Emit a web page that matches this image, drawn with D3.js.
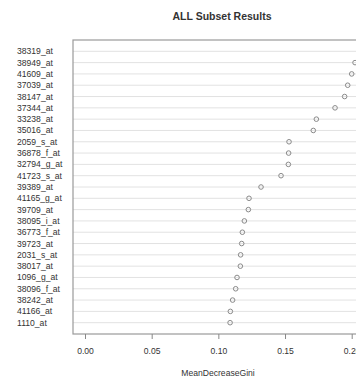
<!DOCTYPE html>
<html>
<head>
<meta charset="utf-8">
<script src="https://cdn.jsdelivr.net/npm/d3@7"></script>
<style>
  body { margin: 0; background: #fff; }
  text { font-family: Arial, "Liberation Sans", sans-serif; fill: #333; }
</style>
</head>
<body>
<div id="chart"></div>
<script>
var genes = ['38319_at', '38949_at', '41609_at', '37039_at', '38147_at', '37344_at', '33238_at', '35016_at',
    '2059_s_at', '36878_f_at', '32794_g_at', '41723_s_at', '39389_at', '41165_g_at', '39709_at', '38095_i_at',
    '36773_f_at', '39723_at', '2031_s_at', '38017_at', '1096_g_at', '38096_f_at', '38242_at', '41166_at', '1110_at'];
var gini = [0.215, 0.2025, 0.2, 0.197, 0.1947, 0.1875, 0.1735, 0.1712,
    0.153, 0.1527, 0.1525, 0.147, 0.132, 0.123, 0.1225, 0.1195,
    0.118, 0.1175, 0.1167, 0.1165, 0.114, 0.113, 0.1107, 0.109, 0.1088];
var xTicks = [0, 0.05, 0.1, 0.15, 0.2];

var width = 356, height = 379;
var box = { left: 73, top: 40, bottom: 334, right: 380 };

var svg = d3.select('#chart').append('svg')
    .attr('width', width)
    .attr('height', height);

// x: 0 sits at 85px, 0.05 per ~66.7px
var x = d3.scaleLinear().domain([0, 0.2]).range([85, 351.7]);
// y like R dotchart: positions 0..n+1, first label at the top
var y = d3.scaleLinear().domain([0, genes.length + 1]).range([box.bottom, box.top]);
function rowY(i) { return y(genes.length - i); }

svg.append('text')
    .attr('x', 222)
    .attr('y', 20)
    .attr('text-anchor', 'middle')
    .style('font-size', '10.5px')
    .style('font-weight', 'bold')
    .text('ALL Subset Results');

// dotted guide lines
svg.append('g').selectAll('line')
    .data(genes)
    .enter()
    .append('line')
    .attr('x1', box.left)
    .attr('x2', width)
    .attr('y1', function (d, i) { return rowY(i); })
    .attr('y2', function (d, i) { return rowY(i); })
    .attr('stroke', '#e2e2e2')
    .attr('stroke-width', 1);

// plot box
svg.append('rect')
    .attr('x', box.left)
    .attr('y', box.top)
    .attr('width', box.right - box.left)
    .attr('height', box.bottom - box.top)
    .attr('fill', 'none')
    .attr('stroke', '#9a9a9a')
    .attr('stroke-width', 1.2);

// labels, left aligned as in dotchart
svg.append('g').selectAll('text')
    .data(genes)
    .enter()
    .append('text')
    .attr('x', 17)
    .attr('y', function (d, i) { return rowY(i); })
    .attr('dy', '0.35em')
    .style('font-size', '8.6px')
    .text(function (d) { return d; });

// points
svg.append('g').selectAll('circle')
    .data(gini)
    .enter()
    .append('circle')
    .attr('cx', function (d) { return x(d); })
    .attr('cy', function (d, i) { return rowY(i); })
    .attr('r', 2.3)
    .attr('fill', 'none')
    .attr('stroke', '#8a8a8a')
    .attr('stroke-width', 1);

// x axis
var xAxis = d3.axisBottom(x)
    .tickValues(xTicks)
    .tickSize(5)
    .tickPadding(9)
    .tickFormat(d3.format('.2f'));

var gx = svg.append('g')
    .attr('transform', 'translate(0,' + box.bottom + ')')
    .call(xAxis);
gx.select('.domain').remove();
gx.selectAll('line').attr('stroke', '#888');
gx.selectAll('text')
    .style('font-size', '8.6px')
    .attr('fill', '#444');

svg.append('text')
    .attr('x', 218)
    .attr('y', 376)
    .attr('text-anchor', 'middle')
    .style('font-size', '8.6px')
    .text('MeanDecreaseGini');
</script>
</body>
</html>
